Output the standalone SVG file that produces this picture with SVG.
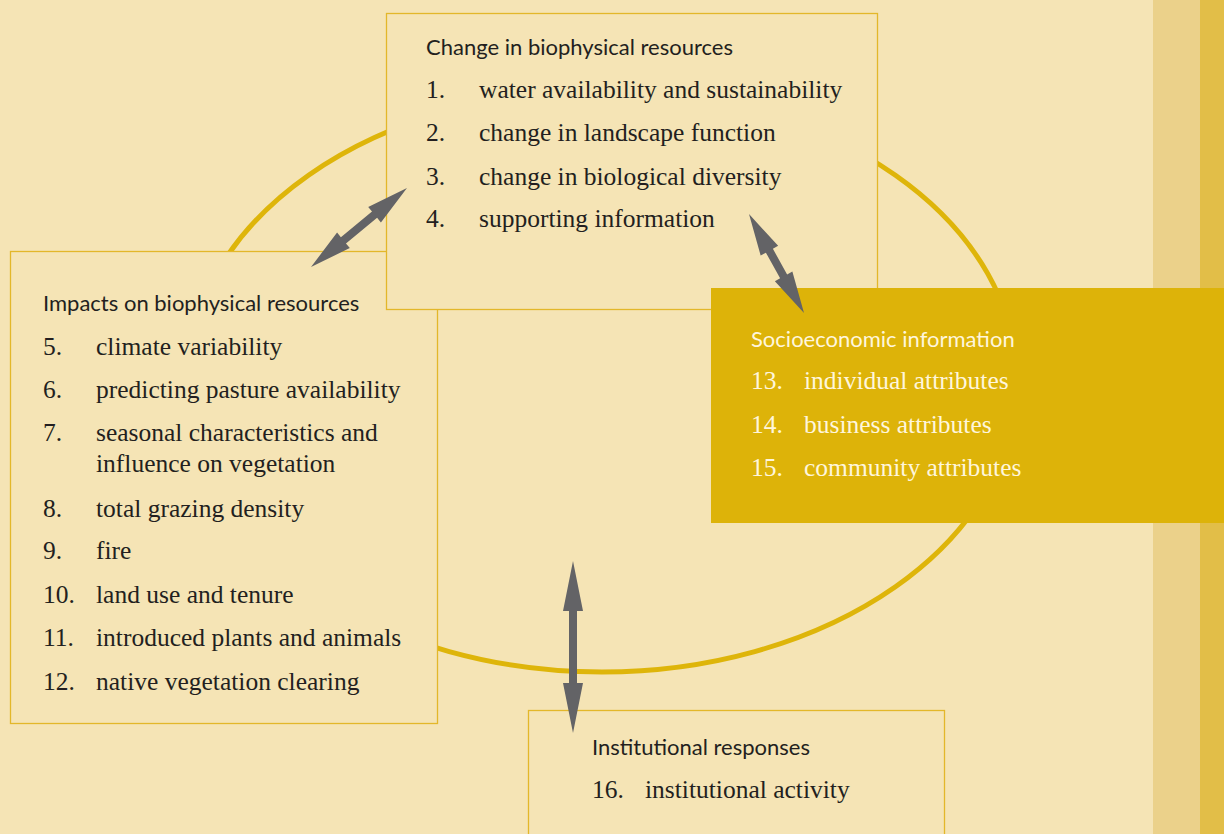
<svg xmlns="http://www.w3.org/2000/svg" width="1224" height="834" viewBox="0 0 1224 834">
<style>
.box{fill:#F5E4B5;stroke:#E3B72A;stroke-width:1.3}
.hd{font-family:Lato,"Open Sans","Liberation Sans",sans-serif;font-size:22px;fill:#231F20}
.it{font-family:"Liberation Serif","DejaVu Serif",serif;font-size:25.5px;fill:#231F20}
.w{fill:#FFF6DC}
.arr{fill:#636366}
</style>
<rect x="0" y="0" width="1224" height="834" fill="#F5E4B5"/>
<rect x="1153" y="0" width="47" height="834" fill="#EBD18A"/>
<rect x="1200" y="0" width="24" height="834" fill="#E2BE48"/>
<ellipse cx="602" cy="381" rx="415" ry="291" fill="none" stroke="#DEB50A" stroke-width="5"/>

<g id="impacts">
<rect class="box" x="10.5" y="251.5" width="427" height="472"/>
<text class="hd" x="43" y="311">Impacts on biophysical resources</text>
<g class="it">
<text x="43" y="355">5.</text><text x="96" y="355">climate variability</text>
<text x="43" y="398">6.</text><text x="96" y="398">predicting pasture availability</text>
<text x="43" y="441">7.</text><text x="96" y="441">seasonal characteristics and</text>
<text x="96" y="472">influence on vegetation</text>
<text x="43" y="517">8.</text><text x="96" y="517">total grazing density</text>
<text x="43" y="559">9.</text><text x="96" y="559">fire</text>
<text x="43" y="603">10.</text><text x="96" y="603">land use and tenure</text>
<text x="43" y="646">11.</text><text x="96" y="646">introduced plants and animals</text>
<text x="43" y="690">12.</text><text x="96" y="690">native vegetation clearing</text>
</g>
</g>

<g id="change">
<rect class="box" x="386.5" y="13.5" width="491" height="296"/>
<text class="hd" x="426" y="55">Change in biophysical resources</text>
<g class="it">
<text x="426" y="98">1.</text><text x="479" y="98">water availability and sustainability</text>
<text x="426" y="141">2.</text><text x="479" y="141">change in landscape function</text>
<text x="426" y="185">3.</text><text x="479" y="185">change in biological diversity</text>
<text x="426" y="227">4.</text><text x="479" y="227">supporting information</text>
</g>
</g>

<g id="socio">
<rect x="711" y="288" width="513" height="235" fill="#DDB309"/>
<text class="hd w" x="751" y="347">Socioeconomic information</text>
<g class="it w">
<text x="751" y="389">13.</text><text x="804" y="389">individual attributes</text>
<text x="751" y="433">14.</text><text x="804" y="433">business attributes</text>
<text x="751" y="476">15.</text><text x="804" y="476">community attributes</text>
</g>
</g>

<g id="institutional">
<rect class="box" x="528.5" y="710.5" width="416" height="140"/>
<text class="hd" x="592" y="755">Institutional responses</text>
<g class="it">
<text x="592" y="798">16.</text><text x="645" y="798">institutional activity</text>
</g>
</g>

<g id="connectors">
<polygon class="arr" transform="translate(311,267) rotate(-39.45)" points="0,0 42,-10 42,-4 82.3,-4 82.3,-10 124.3,0 82.3,10 82.3,4 42,4 42,10"/>
<polygon class="arr" transform="translate(749,214) rotate(60.95)" points="0,0 42,-10 42,-4 71.3,-4 71.3,-10 113.3,0 71.3,10 71.3,4 42,4 42,10"/>
<polygon class="arr" transform="translate(573,561) rotate(90)" points="0,0 50,-10 50,-4 122,-4 122,-10 172,0 122,10 122,4 50,4 50,10"/>
</g>
</svg>
